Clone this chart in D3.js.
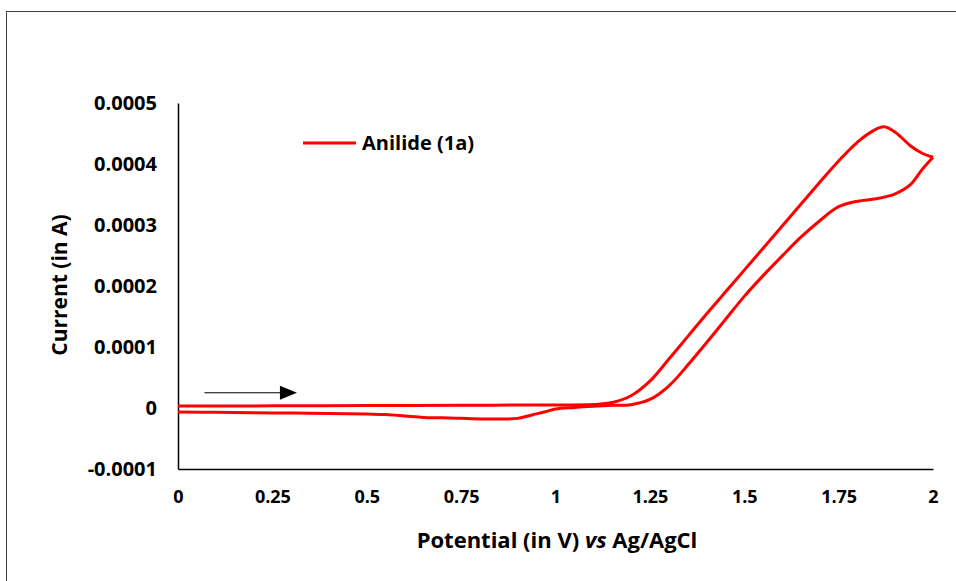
<!DOCTYPE html>
<html>
<head>
    <meta charset="utf-8">
    <title>Cyclic voltammogram - Anilide (1a)</title>
    <script src="https://d3js.org/d3.v7.min.js"></script>
    <style>
        body { margin: 0; background: #fff; }
        text { font-family: "Open Sans", "DejaVu Sans", sans-serif; font-weight: bold; fill: #000; }
    </style>
</head>
<body>
    <div id="chart"></div>
    <script>

        // forward scan, 0 -> 2 V
        var forwardV = [0, 0.25, 0.5, 0.75, 1.0, 1.1, 1.15, 1.2, 1.25, 1.3, 1.35, 1.4, 1.45, 1.5,
                        1.55, 1.6, 1.65, 1.7, 1.75, 1.8, 1.84, 1.87, 1.9, 1.94, 1.97, 2.0];
        var forwardI = [0.0000033, 0.0000035, 0.000004, 0.0000045, 0.000005, 0.0000057, 0.000009,
                        0.00002, 0.000044, 0.00008, 0.000117, 0.000154, 0.00019, 0.000226,
                        0.000262, 0.000298, 0.000334, 0.00037, 0.000405, 0.000436, 0.000454,
                        0.000461, 0.000452, 0.00043, 0.000418, 0.000411];

        // reverse scan, 2 -> 0 V
        var reverseV = [2.0, 1.97, 1.94, 1.9, 1.85, 1.8, 1.75, 1.7, 1.65, 1.6, 1.55, 1.5, 1.45, 1.4,
                        1.35, 1.3, 1.25, 1.2, 1.15, 1.1, 1.05, 1.0, 0.97, 0.94, 0.9, 0.85, 0.8,
                        0.75, 0.7, 0.65, 0.6, 0.55, 0.5, 0.4, 0.25, 0.1, 0];
        var reverseI = [0.000411, 0.00039, 0.000366, 0.000351, 0.000343, 0.000339, 0.00033, 0.000307,
                        0.00028, 0.000249, 0.000217, 0.000183, 0.000145, 0.000107, 0.00007,
                        0.000036, 0.000014, 0.0000055, 0.0000045, 0.000003, 0.000001, -0.0000016,
                        -0.0000066, -0.000011, -0.000017, -0.000018, -0.000018, -0.000017,
                        -0.000016, -0.0000155, -0.000013, -0.0000107, -0.00001, -0.000009,
                        -0.000008, -0.000007, -0.0000066];

        var xTicks = [0, 0.25, 0.5, 0.75, 1, 1.25, 1.5, 1.75, 2];
        var xTickLabels = ["0", "0.25", "0.5", "0.75", "1", "1.25", "1.5", "1.75", "2"];
        var yTicks = [-0.0001, 0, 0.0001, 0.0002, 0.0003, 0.0004, 0.0005];
        var yTickLabels = ["-0.0001", "0", "0.0001", "0.0002", "0.0003", "0.0004", "0.0005"];

        var seriesName = "Anilide (1a)";

        var width = 956, height = 581;
        var margin = {top: 103, right: 23, bottom: 112, left: 178};

        var svg = d3.select("#chart")
                    .append("svg")
                    .attr("width", width)
                    .attr("height", height);

        // outer frame
        svg.append("rect")
            .attr("x", 6.5)
            .attr("y", 11.5)
            .attr("width", width + 10)
            .attr("height", height + 10)
            .attr("fill", "none")
            .attr("stroke", "#404040")
            .attr("stroke-width", 1);

        var x = d3.scaleLinear()
                    .domain([0, 2])
                    .range([margin.left, width - margin.right]);
        var y = d3.scaleLinear()
                    .domain([-0.0001, 0.0005])
                    .range([height - margin.bottom, margin.top]);

        var xAxis = svg.append("g")
            .attr("transform", "translate(0," + y(-0.0001) + ")")
            .call(d3.axisBottom(x)
                .tickValues(xTicks)
                .tickSize(0)
                .tickPadding(21)
                .tickFormat(function(d, i) { return xTickLabels[i]; }));
        xAxis.select(".domain").attr("stroke", "#000").attr("stroke-width", 1.5);
        xAxis.selectAll("text").style("font-size", "18px").attr("font-family", null);

        var yAxis = svg.append("g")
            .attr("transform", "translate(" + x(0) + ",0)")
            .call(d3.axisLeft(y)
                .tickValues(yTicks)
                .tickSize(0)
                .tickPadding(21)
                .tickFormat(function(d, i) { return yTickLabels[i]; }));
        yAxis.select(".domain").attr("stroke", "#000").attr("stroke-width", 1.5);
        yAxis.selectAll("text").style("font-size", "20px").attr("font-family", null);

        var line = d3.line()
            .x(function(d) { return x(d[0]); })
            .y(function(d) { return y(d[1]); })
            .curve(d3.curveCatmullRom.alpha(0.5));

        svg.append("path")
            .datum(forwardV.map(function(v, i) { return [v, forwardI[i]]; }))
            .attr("fill", "none")
            .attr("stroke", "#ff0000")
            .attr("stroke-width", 3)
            .attr("stroke-linejoin", "round")
            .attr("d", line);
        svg.append("path")
            .datum(reverseV.map(function(v, i) { return [v, reverseI[i]]; }))
            .attr("fill", "none")
            .attr("stroke", "#ff0000")
            .attr("stroke-width", 3)
            .attr("stroke-linejoin", "round")
            .attr("d", line);

        // scan direction arrow
        var arrowY = y(0.000025);
        svg.append("line")
            .attr("x1", x(0.07))
            .attr("x2", x(0.275))
            .attr("y1", arrowY)
            .attr("y2", arrowY)
            .attr("stroke", "#000")
            .attr("stroke-width", 1);
        svg.append("path")
            .attr("d", "M" + x(0.27) + "," + (arrowY - 7) +
                       "L" + x(0.315) + "," + arrowY +
                       "L" + x(0.27) + "," + (arrowY + 7) + "Z")
            .attr("fill", "#000");

        // legend
        svg.append("line")
            .attr("x1", 303)
            .attr("x2", 356)
            .attr("y1", 143)
            .attr("y2", 143)
            .attr("stroke", "#ff0000")
            .attr("stroke-width", 3);
        svg.append("text")
            .attr("x", 362)
            .attr("y", 150)
            .style("font-size", "20px")
            .text(seriesName);

        // axis titles
        var xTitle = svg.append("text")
            .attr("x", 557)
            .attr("y", 548)
            .attr("text-anchor", "middle")
            .style("font-size", "22px");
        xTitle.append("tspan").text("Potential (in V) ");
        xTitle.append("tspan").style("font-style", "italic").text("vs");
        xTitle.append("tspan").text(" Ag/AgCl");

        svg.append("text")
            .attr("transform", "translate(67," + 285 + ") rotate(-90)")
            .attr("text-anchor", "middle")
            .style("font-size", "21px")
            .text("Current (in A)");

    </script>
</body>
</html>
